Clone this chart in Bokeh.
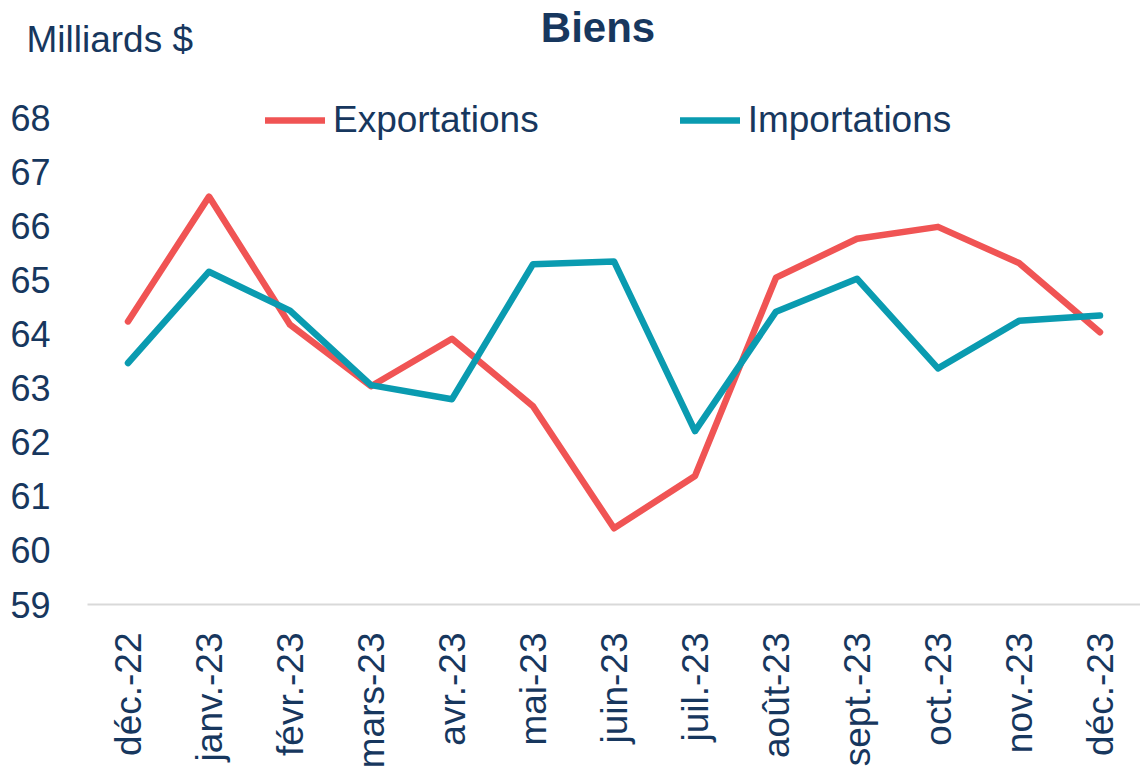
import math
from bokeh.plotting import figure
from bokeh.models import Range1d, FixedTicker, Label, Legend, LegendItem
from bokeh.embed import file_html
from bokeh.resources import INLINE

months = ["déc.-22", "janv.-23", "févr.-23", "mars-23", "avr.-23", "mai-23", "juin-23",
          "juil.-23", "août-23", "sept.-23", "oct.-23", "nov.-23", "déc.-23"]
exportations = [64.24, 66.55, 64.18, 63.04, 63.92, 62.67, 60.41, 61.38, 65.05, 65.77, 65.99, 65.32, 64.04]
importations = [63.47, 65.16, 64.44, 63.06, 62.80, 65.30, 65.35, 62.21, 64.42, 65.03, 63.37, 64.25, 64.35]
y_ticks = [59, 60, 61, 62, 63, 64, 65, 66, 67, 68]
series_names = ["Exportations", "Importations"]
title_text = "Biens"
unit_text = "Milliards $"

NAVY = "#17375E"
RED = "#F05454"
TEAL = "#0A9BB0"
FONT = "Liberation Sans"

W, H = 1140, 771
BOTTOM = 167
FRAME_BOTTOM = H - BOTTOM          # 604
H_UNIT = 1.117 * 37                # height of the unit label panel
H_TITLE = 1.117 * 42               # height of the title panel
FRAME_TOP = H_UNIT + H_TITLE
PX_PER_UNIT = 54.0

p = figure(x_range=months, y_range=Range1d(59, 59 + (FRAME_BOTTOM - FRAME_TOP) / PX_PER_UNIT),
           width=W, height=H, output_backend="svg", toolbar_location=None,
           min_border_left=87, min_border_right=0, min_border_top=0, min_border_bottom=BOTTOM)
p.outline_line_color = None
p.xgrid.grid_line_color = None
p.ygrid.grid_line_color = None
p.background_fill_color = "white"
p.border_fill_color = "white"

r1 = p.line(months, exportations, line_width=6.5, color=RED, line_cap="round", line_join="round")
r2 = p.line(months, importations, line_width=6.5, color=TEAL, line_cap="round", line_join="round")

# y axis
p.yaxis.ticker = FixedTicker(ticks=y_ticks)
p.yaxis.axis_line_color = None
p.yaxis.major_tick_line_color = None
p.yaxis.minor_tick_line_color = None
p.yaxis.major_label_standoff = 31
p.yaxis.major_label_text_font = FONT
p.yaxis.major_label_text_font_size = "36px"
p.yaxis.major_label_text_color = NAVY

# x axis
p.xaxis.axis_line_color = "#D9D9D9"
p.xaxis.axis_line_width = 2
p.xaxis.major_tick_line_color = None
p.xaxis.minor_tick_line_color = None
p.xaxis.major_label_orientation = math.pi / 2
p.xaxis.major_label_standoff = 22
p.xaxis.major_label_text_font = FONT
p.xaxis.major_label_text_font_size = "37px"
p.xaxis.major_label_text_color = NAVY

# Unit (nearest the frame) and title (outer), in the top side panels
p.add_layout(Label(x=-61, y=FRAME_TOP - 39, x_units="screen", y_units="screen",
                   text=unit_text, text_align="left", text_baseline="middle",
                   text_font=FONT, text_font_size="37px", text_color=NAVY), "above")
p.add_layout(Label(x=510.5, y=H_TITLE - 27, x_units="screen", y_units="screen",
                   text=title_text, text_align="center", text_baseline="middle",
                   text_font=FONT, text_font_size="42px", text_font_style="bold",
                   text_color=NAVY), "above")

legend = Legend(items=[LegendItem(label=series_names[0], renderers=[r1]),
                       LegendItem(label=series_names[1], renderers=[r2])],
                orientation="horizontal", location=(178, FRAME_BOTTOM - 141),
                glyph_width=60, glyph_height=40, label_height=40, label_standoff=8,
                spacing=141, padding=0, margin=0, border_line_color=None,
                background_fill_alpha=0, label_text_font=FONT,
                label_text_font_size="37px", label_text_color=NAVY)
p.add_layout(legend)

open("out.html", "w").write(file_html(p, INLINE))
